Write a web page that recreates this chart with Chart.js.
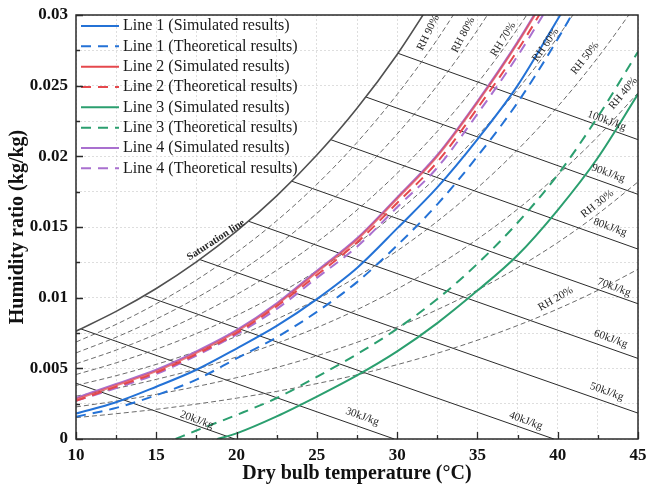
<!DOCTYPE html>
<html>
<head>
<meta charset="utf-8">
<script src="https://cdn.jsdelivr.net/npm/chart.js@4.4.1/dist/chart.umd.min.js"></script>
<style>
  html, body { margin: 0; padding: 0; background: #ffffff; }
  canvas { display: block; background: #ffffff; }
</style>
</head>
<body>
<canvas id="chart" width="646" height="492"></canvas>
<script>
// ---- Axis ticks ----
const xTickValues = [10, 15, 20, 25, 30, 35, 40, 45];
const xTickLabels = ['10', '15', '20', '25', '30', '35', '40', '45'];
const yTickValues = [0, 0.005, 0.01, 0.015, 0.02, 0.025, 0.03];
const yTickLabels = ['0', '0.005', '0.01', '0.015', '0.02', '0.025', '0.03'];

// ---- Psychrometric background (dry bulb °C, humidity ratio kg/kg) ----
const gridTemps = [10, 12.5, 15, 17.5, 20, 22.5, 25, 27.5, 30, 32.5, 35, 37.5, 40, 42.5, 45];
const saturation = [0.00763, 0.00903, 0.01065, 0.01253, 0.01470, 0.01720, 0.02009, 0.02340, 0.02721, 0.03158];
const rh90 = [0.00686, 0.00811, 0.00957, 0.01125, 0.01320, 0.01544, 0.01802, 0.02098, 0.02438, 0.02827, 0.03273];
const rh80 = [0.00609, 0.00720, 0.00849, 0.00998, 0.01170, 0.01369, 0.01597, 0.01858, 0.02158, 0.02501, 0.02893, 0.03340];
const rh70 = [0.00532, 0.00629, 0.00742, 0.00872, 0.01022, 0.01194, 0.01393, 0.01620, 0.01880, 0.02177, 0.02517, 0.02903, 0.03344];
const rh60 = [0.00456, 0.00539, 0.00635, 0.00746, 0.00874, 0.01021, 0.01190, 0.01383, 0.01605, 0.01857, 0.02145, 0.02472, 0.02844, 0.03267];
const rh50 = [0.00379, 0.00448, 0.00528, 0.00620, 0.00726, 0.00848, 0.00988, 0.01148, 0.01331, 0.01540, 0.01777, 0.02046, 0.02352, 0.02699, 0.03091];
const rh40 = [0.00303, 0.00358, 0.00422, 0.00495, 0.00580, 0.00677, 0.00788, 0.00915, 0.01061, 0.01226, 0.01414, 0.01626, 0.01868, 0.02140, 0.02449];
const rh30 = [0.00227, 0.00268, 0.00316, 0.00371, 0.00434, 0.00506, 0.00589, 0.00684, 0.00792, 0.00915, 0.01054, 0.01212, 0.01390, 0.01592, 0.01819];
const rh20 = [0.00151, 0.00179, 0.00210, 0.00247, 0.00289, 0.00337, 0.00392, 0.00454, 0.00526, 0.00607, 0.00699, 0.00803, 0.00920, 0.01052, 0.01201];

// constant-enthalpy lines, 20 ... 100 kJ/kg
const enthalpyStartT = [10, 10.3, 14.26, 17.7, 20.74, 23.44, 25.86, 28.05, 30.05];
const enthalpyStartW = [0.00395, 0.00779, 0.01015, 0.0127, 0.01541, 0.01824, 0.02118, 0.0242, 0.02729];
const enthalpyEndT = [19.88, 29.82, 39.76, 45, 45, 45, 45, 45, 45];
const enthalpyEndW = [0, 0, 0, 0.00183, 0.00570, 0.00957, 0.01344, 0.01731, 0.02118];

// ---- Process lines ----
const line1Temps = [10, 12.5, 15, 17.5, 20, 22.5, 25, 27.5, 30, 32.5, 35, 37.5, 40, 42.5];
const line1Sim  = [0.0018, 0.0026, 0.0037, 0.0049, 0.0064, 0.0080, 0.0099, 0.0121, 0.0149, 0.0178, 0.0212, 0.0250, 0.0297, 0.0345];
const line1Theo = [0.00158, 0.0022, 0.0031, 0.0042, 0.0057, 0.0072, 0.0090, 0.0111, 0.0137, 0.0166, 0.0200, 0.0238, 0.0283, 0.0333];

const line2Temps = [10, 12.5, 15, 17.5, 20, 22.5, 25, 27.5, 30, 32.5, 35, 37.5, 40];
const line2Sim  = [0.0028, 0.0038, 0.0048, 0.0061, 0.0076, 0.0095, 0.0118, 0.0141, 0.0170, 0.0200, 0.0238, 0.0280, 0.0327];
const line2Theo = [0.0027, 0.0037, 0.0047, 0.0060, 0.0075, 0.0094, 0.0116, 0.0139, 0.0167, 0.0196, 0.0234, 0.0275, 0.0322];

const line3SimTemps = [18.8, 20, 22.5, 25, 27.5, 30, 32.5, 35, 37.5, 40, 42.5, 45];
const line3Sim  = [0, 0.0004, 0.0016, 0.0030, 0.0045, 0.0062, 0.0082, 0.0105, 0.0130, 0.0162, 0.0199, 0.0244];
const line3TheoTemps = [16.2, 17.5, 20, 22.5, 25, 27.5, 30, 32.5, 35, 37.5, 40, 42.5, 45];
const line3Theo = [0, 0.0006, 0.0017, 0.0029, 0.0044, 0.0060, 0.0078, 0.0099, 0.0124, 0.0153, 0.0187, 0.0228, 0.0274];

const line4Temps = [10, 12.5, 15, 17.5, 20, 22.5, 25, 27.5, 30, 32.5, 35, 37.5, 40];
const line4Sim  = [0.0029, 0.0039, 0.0049, 0.0062, 0.0077, 0.0096, 0.0119, 0.0142, 0.0171, 0.0201, 0.0239, 0.0281, 0.0328];
const line4Theo = [0.0027, 0.0036, 0.0046, 0.0059, 0.0074, 0.0092, 0.0114, 0.0136, 0.0164, 0.0192, 0.0230, 0.0271, 0.0317];

// ---- Styling ----
const SERIF = "'Times New Roman', 'Liberation Serif', serif";
const BLUE = '#2472d6';
const RED = '#e5484d';
const GREEN = '#2b9f6f';
const PURPLE = '#a970cf';
const DASH = [10, 7];

const pts = (xs, ys) => ys.map((v, i) => ({ x: xs[i], y: v }));

function seriesSet(label, xs, ys, color, dash, stroke) {
  return {
    label, data: pts(xs, ys), borderColor: stroke || color, legendColor: color,
    borderWidth: 2, borderDash: dash, pointRadius: 0,
    cubicInterpolationMode: 'monotone', fill: false, isSeries: true
  };
}
function rhSet(label, ys) {
  return {
    label, data: pts(gridTemps, ys), borderColor: '#5a5a5a', borderWidth: 0.9,
    borderDash: [5, 3], pointRadius: 0, cubicInterpolationMode: 'monotone', fill: false
  };
}

const datasets = [
  seriesSet('Line 1 (Simulated results)', line1Temps, line1Sim, BLUE, []),
  seriesSet('Line 1 (Theoretical results)', line1Temps, line1Theo, BLUE, DASH),
  // slightly see-through so the overlapping Line 4 curve tints it
  seriesSet('Line 2 (Simulated results)', line2Temps, line2Sim, RED, [], 'rgba(229,72,77,0.72)'),
  seriesSet('Line 2 (Theoretical results)', line2Temps, line2Theo, RED, DASH),
  seriesSet('Line 3 (Simulated results)', line3SimTemps, line3Sim, GREEN, []),
  seriesSet('Line 3 (Theoretical results)', line3TheoTemps, line3Theo, GREEN, DASH),
  seriesSet('Line 4 (Simulated results)', line4Temps, line4Sim, PURPLE, []),
  seriesSet('Line 4 (Theoretical results)', line4Temps, line4Theo, PURPLE, DASH),
  {
    label: 'Saturation line', data: pts(gridTemps, saturation), borderColor: '#505050',
    borderWidth: 1.6, pointRadius: 0, cubicInterpolationMode: 'monotone', fill: false
  },
  rhSet('RH 90%', rh90), rhSet('RH 80%', rh80), rhSet('RH 70%', rh70), rhSet('RH 60%', rh60),
  rhSet('RH 50%', rh50), rhSet('RH 40%', rh40), rhSet('RH 30%', rh30), rhSet('RH 20%', rh20)
];
enthalpyStartT.forEach((t, i) => {
  datasets.push({
    label: (20 + 10 * i) + 'kJ/kg',
    data: [{ x: t, y: enthalpyStartW[i] }, { x: enthalpyEndT[i], y: enthalpyEndW[i] }],
    borderColor: '#2b2b2b', borderWidth: 1, pointRadius: 0, tension: 0, fill: false
  });
});

// text placed along the background curves, anchored in data coordinates
const curveLabels = [
  { text: 'Saturation line', t: 18.72, w: 0.01408, angle: -33, bold: true, size: 10.5 },
  { text: 'RH 90%', t: 31.94, w: 0.02875, angle: -64 },
  { text: 'RH 80%', t: 34.12, w: 0.02859, angle: -62 },
  { text: 'RH 70%', t: 36.61, w: 0.02828, angle: -58 },
  { text: 'RH 60%', t: 39.25, w: 0.02788, angle: -55 },
  { text: 'RH 50%', t: 41.70, w: 0.02694, angle: -52 },
  { text: 'RH 40%', t: 44.08, w: 0.02446, angle: -50 },
  { text: 'RH 30%', t: 42.47, w: 0.01663, angle: -38 },
  { text: 'RH 20%', t: 39.87, w: 0.00991, angle: -30 },
  { text: '20kJ/kg', t: 17.52, w: 0.00134, angle: 20 },
  { text: '30kJ/kg', t: 27.83, w: 0.00158, angle: 20 },
  { text: '40kJ/kg', t: 38.01, w: 0.00129, angle: 20 },
  { text: '50kJ/kg', t: 43.05, w: 0.00335, angle: 20 },
  { text: '60kJ/kg', t: 43.30, w: 0.00708, angle: 20 },
  { text: '70kJ/kg', t: 43.51, w: 0.01073, angle: 20 },
  { text: '80kJ/kg', t: 43.26, w: 0.01498, angle: 20 },
  { text: '90kJ/kg', t: 43.15, w: 0.01880, angle: 20 },
  { text: '100kJ/kg', t: 43.05, w: 0.02252, angle: 20 }
];

const curveLabelPlugin = {
  id: 'curveLabels',
  afterDatasetsDraw(chart) {
    const { ctx, scales: { x, y } } = chart;
    ctx.save();
    ctx.fillStyle = '#262626';
    ctx.textAlign = 'center';
    ctx.textBaseline = 'middle';
    curveLabels.forEach(l => {
      ctx.save();
      ctx.translate(x.getPixelForValue(l.t), y.getPixelForValue(l.w));
      ctx.rotate(l.angle * Math.PI / 180);
      ctx.font = (l.bold ? 'bold ' : '') + (l.size || 11) + 'px ' + SERIF;
      ctx.fillText(l.text, 0, 0);
      ctx.restore();
    });
    ctx.restore();
  }
};

// single-column legend inside the top-left corner of the plot
const seriesLegendPlugin = {
  id: 'seriesLegend',
  afterDatasetsDraw(chart) {
    const { ctx, chartArea: a } = chart;
    const items = chart.data.datasets.filter(d => d.isSeries);
    ctx.save();
    ctx.font = '16px ' + SERIF;
    ctx.textBaseline = 'middle';
    ctx.textAlign = 'left';
    items.forEach((d, i) => {
      const yy = a.top + 11 + i * 20.33;
      ctx.strokeStyle = d.legendColor;
      ctx.lineWidth = 2;
      ctx.setLineDash(d.borderDash);
      ctx.beginPath();
      ctx.moveTo(a.left + 5, yy);
      ctx.lineTo(a.left + 43, yy);
      ctx.stroke();
      ctx.setLineDash([]);
      ctx.fillStyle = '#1a1a1a';
      ctx.fillText(d.label, a.left + 47, yy);
    });
    ctx.restore();
  }
};

// plot frame with inward major / minor tick marks
const framePlugin = {
  id: 'frame',
  afterDatasetsDraw(chart) {
    const { ctx, chartArea: a, scales: { x, y } } = chart;
    ctx.save();
    ctx.strokeStyle = '#2a2a2a';
    ctx.lineWidth = 1.5;
    ctx.strokeRect(a.left, a.top, a.right - a.left, a.bottom - a.top);
    ctx.lineWidth = 1.3;
    ctx.beginPath();
    x.ticks.forEach(t => {
      const px = Math.round(x.getPixelForValue(t.value)) + 0.5;
      const len = t.label ? 7 : 4;
      ctx.moveTo(px, a.bottom);
      ctx.lineTo(px, a.bottom - len);
    });
    y.ticks.forEach(t => {
      const py = Math.round(y.getPixelForValue(t.value)) + 0.5;
      const len = t.label ? 7 : 4;
      ctx.moveTo(a.left, py);
      ctx.lineTo(a.left + len, py);
    });
    ctx.stroke();
    ctx.restore();
  }
};

const tickFont = { family: SERIF, size: 17, weight: 'bold' };
const titleFont = { family: SERIF, size: 20, weight: 'bold' };
const gridColor = 'rgba(200,200,200,0.6)';

new Chart(document.getElementById('chart'), {
  type: 'line',
  data: { datasets },
  options: {
    responsive: false,
    animation: false,
    devicePixelRatio: 1,
    layout: { padding: { top: 15, right: 8, left: 0, bottom: 0 } },
    plugins: {
      tooltip: { enabled: false },
      legend: { display: false }
    },
    scales: {
      x: {
        type: 'linear', min: 10, max: 45,
        ticks: {
          stepSize: 2.5, autoSkip: false, maxRotation: 0, padding: 6,
          color: '#111', font: tickFont,
          callback: v => {
            const i = xTickValues.findIndex(t => Math.abs(t - v) < 1e-6);
            return i < 0 ? '' : xTickLabels[i];
          }
        },
        grid: { color: gridColor, lineWidth: 1, drawTicks: false },
        border: { display: false, dash: [2, 2] },
        title: { display: true, text: 'Dry bulb temperature (°C)', font: titleFont, color: '#111', padding: { top: 6, bottom: 6 } },
        afterFit(s) { s.height = 53; s.paddingLeft = 0; s.paddingRight = 0; }
      },
      y: {
        type: 'linear', min: 0, max: 0.03,
        ticks: {
          stepSize: 0.0025, autoSkip: false, padding: 8,
          color: '#111', font: tickFont,
          callback: v => {
            const i = yTickValues.findIndex(t => Math.abs(t - v) < 1e-7);
            return i < 0 ? '' : yTickLabels[i];
          }
        },
        grid: { color: gridColor, lineWidth: 1, drawTicks: false },
        border: { display: false, dash: [2, 2] },
        title: { display: true, text: 'Humidity ratio (kg/kg)', font: titleFont, color: '#111', padding: { top: 6, bottom: 6 } },
        afterFit(s) { s.width = 76; s.paddingTop = 0; s.paddingBottom = 0; }
      }
    }
  },
  plugins: [curveLabelPlugin, seriesLegendPlugin, framePlugin]
});
</script>
</body>
</html>
